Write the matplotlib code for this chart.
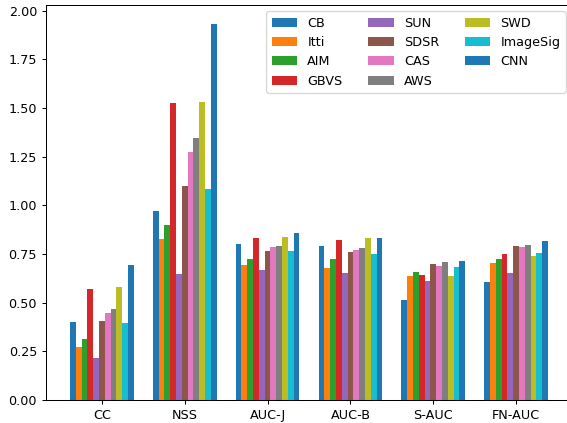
import numpy as np
import matplotlib
matplotlib.use("Agg")
import matplotlib.pyplot as plt

metrics = ["CC", "NSS", "AUC-J", "AUC-B", "S-AUC", "FN-AUC"]
models = ["CB", "Itti", "AIM", "GBVS", "SUN", "SDSR", "CAS", "AWS", "SWD", "ImageSig", "CNN"]

cb = [0.400, 0.972, 0.802, 0.789, 0.515, 0.607]
itti = [0.270, 0.825, 0.692, 0.679, 0.639, 0.703]
aim = [0.314, 0.900, 0.727, 0.722, 0.658, 0.727]
gbvs = [0.569, 1.524, 0.833, 0.823, 0.641, 0.751]
sun = [0.218, 0.649, 0.668, 0.655, 0.612, 0.655]
sdsr = [0.405, 1.101, 0.766, 0.760, 0.699, 0.789]
cas = [0.448, 1.273, 0.784, 0.771, 0.687, 0.784]
aws = [0.467, 1.345, 0.789, 0.780, 0.708, 0.794]
swd = [0.579, 1.529, 0.838, 0.832, 0.636, 0.741]
imagesig = [0.397, 1.086, 0.765, 0.751, 0.684, 0.756]
cnn = [0.694, 1.933, 0.856, 0.832, 0.716, 0.818]

scores = [cb, itti, aim, gbvs, sun, sdsr, cas, aws, swd, imagesig, cnn]

DPI = 92
W, H = 567, 423
fig = plt.figure(figsize=(W / DPI, H / DPI), dpi=DPI)
ax = fig.add_axes([46 / W, (H - 400) / H, (572 - 46) / W, (400 - 5) / H])

x = np.arange(len(metrics))
width = 0.07
n = len(models)
for i, (name, vals) in enumerate(zip(models, scores)):
    offset = (i - (n - 1) / 2) * width
    ax.bar(x + offset, vals, width, label=name, color=f"C{i % 10}")

ax.set_xticks(x)
ax.set_xticklabels(metrics)
ax.legend(loc="upper right", ncol=3)

fig.savefig("out.png", dpi=DPI)
